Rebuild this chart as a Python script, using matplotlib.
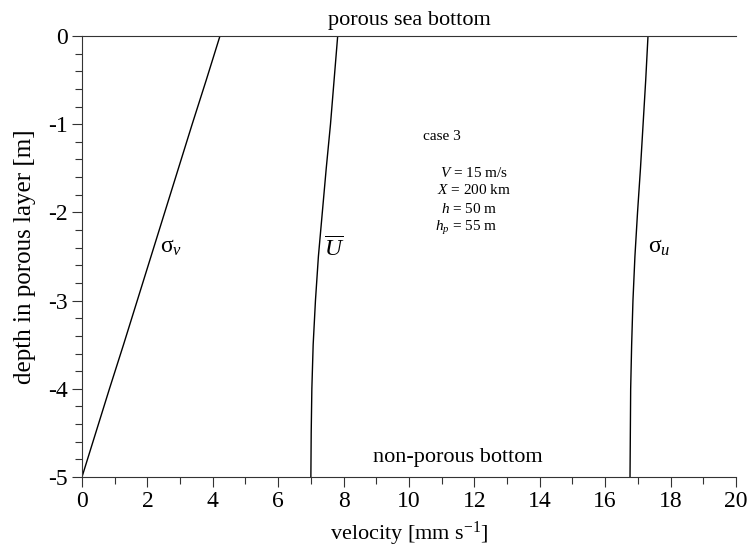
import matplotlib
matplotlib.use('Agg')
import matplotlib.pyplot as plt
from matplotlib.ticker import MultipleLocator

plt.rcParams['font.family'] = ['Liberation Serif', 'DejaVu Serif']
plt.rcParams['mathtext.fontset'] = 'custom'
plt.rcParams['mathtext.rm'] = 'Liberation Serif'
plt.rcParams['mathtext.it'] = 'Liberation Serif:italic'
plt.rcParams['axes.unicode_minus'] = False

# depth in porous layer [m]
depth = [0.0, -0.5, -1.0, -1.5, -2.0, -2.5, -3.0, -3.5, -4.0, -4.5, -5.0]
# velocity profiles [mm/s]
sigma_v = [4.22, 3.80, 3.37, 2.95, 2.53, 2.11, 1.69, 1.27, 0.84, 0.42, 0.0]
u_mean = [7.82, 7.71, 7.60, 7.47, 7.35, 7.23, 7.14, 7.07, 7.03, 7.01, 7.00]
sigma_u = [17.31, 17.24, 17.16, 17.08, 16.99, 16.91, 16.85, 16.81, 16.78, 16.77, 16.76]

case_lines = ['case 3', '$V$ = 15 m/s', '$X$ = 200 km', '$h$ = 50 m', '$h_p$ = 55 m']


def main():
    fig = plt.figure(figsize=(7.48, 5.52), dpi=100)
    ax = fig.add_axes([0.1096, 0.1359, 0.8743, 0.7989])

    ax.plot(sigma_v, depth, color='black', lw=1.0)
    ax.plot(u_mean, depth, color='black', lw=1.0)
    ax.plot(sigma_u, depth, color='black', lw=1.0)

    ax.set_xlim(0, 20)
    ax.set_ylim(-5, 0)

    # axis styling: no right spine, ticks outwards
    ax.spines['right'].set_visible(False)
    for s in ['left', 'bottom', 'top']:
        ax.spines[s].set_linewidth(0.8)
        ax.spines[s].set_color('#333333')
    ax.xaxis.set_major_locator(MultipleLocator(2))
    ax.xaxis.set_minor_locator(MultipleLocator(1))
    ax.yaxis.set_major_locator(MultipleLocator(1))
    ax.yaxis.set_minor_locator(MultipleLocator(0.2))
    ax.tick_params(which='both', direction='out', top=False, right=False,
                   color='#333333', width=0.8)
    ax.tick_params(which='major', length=7, labelsize=17, pad=3)
    ax.tick_params(which='minor', length=5)

    ax.set_xlabel('velocity [mm s$^{\\mathrm{-1}}$]', fontsize=16, labelpad=6)
    ax.set_ylabel('depth in porous layer [m]', fontsize=18, labelpad=9)

    # curve labels
    ax.text(2.4, -2.4, 'σ$_v$', fontsize=17, ha='left', va='center')
    ax.text(7.4, -2.42, r'$\overline{U}$', fontsize=17, ha='left', va='center')
    ax.text(17.3, -2.4, 'σ$_u$', fontsize=17, ha='left', va='center')

    ax.text(10.0, 0.07, 'porous sea bottom', fontsize=16, ha='center', va='bottom')
    ax.text(11.5, -4.78, 'non-porous bottom', fontsize=16, ha='center', va='center')

    # case parameters
    xs = [10.43, 10.95, 10.86, 10.97, 10.79]
    ys = [-1.14, -1.55, -1.75, -1.96, -2.18]
    for x, y, s in zip(xs, ys, case_lines):
        ax.text(x, y, s, fontsize=11, ha='left', va='center')

    plt.savefig('out.png', dpi=100)


if __name__ == "__main__":
    main()
